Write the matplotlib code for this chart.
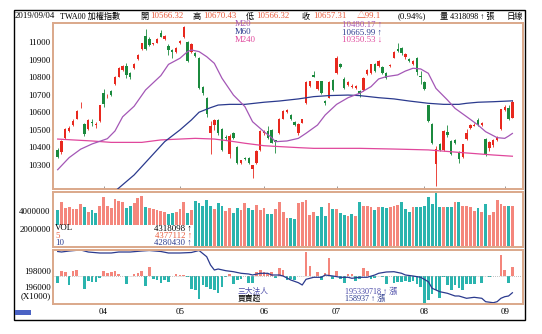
import matplotlib
matplotlib.use("Agg")
import matplotlib.pyplot as plt
from matplotlib.patches import Rectangle

W, H = 542, 334
FONT = ['Liberation Serif', 'Noto Sans CJK TC', 'DejaVu Sans']
plt.rcParams['font.family'] = FONT

# ---- daily candles (TWA00, 2019/03 - 2019/09/04) ----
opens = [10386, 10372, 10456, 10496, 10528, 10564, 10640, 10532, 10505, 10548,
         10530, 10551, 10712, 10692, 10722, 10760, 10804, 10842, 10867, 10823,
         10852, 10905, 10962, 11036, 11019, 10992, 10998, 11051, 11019, 10981,
         10956, 10945, 10994, 11030, 11000, 10945, 10937, 10909, 10745, 10684,
         10480, 10528, 10557, 10505, 10458, 10365, 10481, 10405, 10313, 10342,
         10342, 10275, 10313, 10386, 10481, 10494, 10500, 10440, 10481, 10564,
         10602, 10583, 10545, 10485, 10541, 10652, 10751, 10813, 10735, 10779,
         10665, 10684, 10785, 10823, 10874, 10793, 10755, 10745, 10741, 10722,
         10728, 10817, 10827, 10874, 10865, 10861, 10823, 10866, 10912, 10964,
         10969, 10915, 10903, 10874, 10912, 10810, 10774, 10640, 10532, 10304,
         10418, 10386, 10488, 10437, 10443, 10374, 10348, 10450, 10513, 10524,
         10557, 10526, 10450, 10399, 10412, 10443, 10504, 10614, 10627, 10566]
highs = [10395, 10440, 10512, 10520, 10560, 10612, 10661, 10540, 10560, 10560,
         10545, 10645, 10735, 10705, 10730, 10810, 10858, 10872, 10880, 10830,
         10880, 10932, 10998, 11076, 11030, 10998, 11024, 11070, 11040, 10990,
         10962, 10975, 11012, 11093, 11010, 10995, 10945, 10915, 10750, 10690,
         10550, 10565, 10560, 10510, 10470, 10475, 10488, 10410, 10330, 10345,
         10348, 10300, 10385, 10500, 10498, 10520, 10505, 10445, 10570, 10612,
         10618, 10590, 10550, 10538, 10565, 10778, 10782, 10836, 10782, 10782,
         10670, 10778, 10790, 10920, 10880, 10800, 10778, 10760, 10755, 10728,
         10802, 10848, 10878, 10880, 10900, 10866, 10828, 10875, 10950, 10998,
         10975, 10940, 10910, 10898, 10918, 10836, 10780, 10645, 10538, 10408,
         10425, 10500, 10530, 10442, 10450, 10380, 10422, 10505, 10532, 10540,
         10568, 10545, 10455, 10435, 10447, 10466, 10622, 10640, 10640, 10670]
lows = [10340, 10365, 10450, 10488, 10520, 10560, 10623, 10465, 10500, 10525,
        10510, 10548, 10630, 10685, 10695, 10755, 10800, 10838, 10795, 10790,
        10848, 10900, 10958, 10955, 10980, 10985, 10995, 11028, 11015, 10930,
        10912, 10940, 10990, 11025, 10890, 10940, 10915, 10735, 10700, 10575,
        10360, 10500, 10470, 10380, 10445, 10340, 10450, 10305, 10308, 10328,
        10305, 10228, 10305, 10380, 10470, 10450, 10425, 10370, 10478, 10560,
        10598, 10555, 10520, 10470, 10538, 10648, 10745, 10800, 10730, 10705,
        10640, 10680, 10720, 10818, 10855, 10735, 10750, 10740, 10735, 10690,
        10722, 10812, 10822, 10830, 10860, 10820, 10792, 10860, 10908, 10945,
        10930, 10905, 10888, 10868, 10815, 10760, 10728, 10545, 10418, 10180,
        10380, 10380, 10462, 10355, 10420, 10310, 10340, 10445, 10508, 10520,
        10520, 10520, 10350, 10380, 10405, 10438, 10500, 10610, 10555, 10566]
closes = [10348, 10437, 10507, 10509, 10551, 10608, 10642, 10475, 10555, 10540,
          10534, 10642, 10650, 10696, 10702, 10804, 10852, 10867, 10814, 10804,
          10874, 10928, 10994, 10962, 10985, 10994, 11020, 11032, 11038, 10956,
          10947, 10970, 11008, 11085, 10895, 10989, 10922, 10741, 10713, 10590,
          10525, 10557, 10481, 10386, 10452, 10465, 10456, 10310, 10327, 10332,
          10313, 10298, 10380, 10494, 10494, 10456, 10427, 10434, 10564, 10608,
          10614, 10560, 10526, 10532, 10560, 10774, 10779, 10804, 10779, 10713,
          10652, 10774, 10728, 10912, 10861, 10741, 10774, 10749, 10751, 10703,
          10798, 10842, 10874, 10835, 10893, 10827, 10798, 10869, 10945, 10950,
          10937, 10935, 10893, 10893, 10831, 10800, 10732, 10551, 10424, 10389,
          10386, 10494, 10469, 10361, 10427, 10332, 10418, 10484, 10526, 10528,
          10526, 10538, 10361, 10431, 10443, 10462, 10618, 10633, 10561, 10657]

# volume in millions of 張
volume_m = [4.11, 5.07, 4.38, 4.50, 4.26, 4.26, 4.88, 4.50, 3.88, 4.19,
            3.80, 4.65, 5.65, 4.65, 4.38, 5.42, 5.15, 5.03, 4.38, 4.65,
            4.96, 5.53, 5.73, 4.50, 4.38, 4.26, 4.11, 4.00, 3.88, 3.73,
            3.80, 3.88, 4.30, 5.11, 3.80, 4.11, 5.15, 4.96, 4.57, 5.26,
            4.57, 4.26, 4.96, 4.57, 4.00, 4.38, 3.80, 4.38, 4.19, 4.96,
            4.38, 4.19, 4.77, 4.19, 4.40,
            3.73, 3.73, 4.26, 5.03, 3.88, 3.23, 3.23, 3.11, 4.96, 5.03,
            5.34, 3.61, 3.88, 3.42, 4.50, 3.42, 4.96, 4.26, 4.26, 3.80,
            3.60, 3.42, 3.73, 3.50, 5.03, 4.57, 4.57, 4.50, 4.19, 4.50,
            4.50, 4.40, 4.50, 4.57, 4.77, 5.03, 4.26, 3.88, 4.50, 4.50,
            4.50, 4.60, 5.65, 4.88, 6.03, 4.50, 4.50, 4.50, 4.50, 5.03,
            5.03, 4.65, 4.57, 4.50, 4.00, 4.38, 3.88, 4.88, 3.61, 3.88,
            5.34, 4.80, 4.55, 4.65, 4.60]

# 三大法人 daily net buy/sell
inst_net = [-118000, 88000, 71000, -147000, 101000, 111000, 5000, -230000, -83000, -101000,
            -101000, -35000, 101000, 53000, 76000, 101000, 41000, 9000, -129000, 5000,
            41000, 53000, 101000, -177000, 164000, -41000, -58000, -118000, -58000, -101000,
            5000, 41000, 26000, 23000, -5000, -230000, -247000, -406000, -159000, -189000,
            -217000, -247000, -295000, -189000, -5000, 41000, -129000, -71000, -41000, 5000,
            -118000, -118000, 76000, 106000, 71000, 58000, 76000, -23000, 154000, 118000,
            -58000, -41000, -71000, 5000, 12000, 436000, 177000, 5000, 76000, -71000,
            58000, 318000, -41000, 88000, -41000, -118000, 48000, 48000, -83000, -41000,
            154000, 94000, -41000, -23000, 5000, -5000, -129000, 5000, -118000, -101000,
            -101000, -83000, -101000, -88000, -129000, -189000, -472000, -424000, -306000, -247000,
            -376000, -5000, -159000, -247000, -159000, -200000, -247000, -129000, -141000, -141000,
            5000, -118000, 5000, -5000, 5000, 12000, 376000, 106000, -118000, 158937]

# 三大法人 cumulative line (X1000), read at these bars
line_idx = [0, 1, 3, 6, 8, 11, 14, 16, 19, 22, 24, 27, 29, 32, 35, 37, 39, 40, 41, 42,
            44, 46, 48, 50, 51, 53, 55, 56, 58, 59, 61, 63, 64, 65, 67, 69, 70, 72, 74, 76,
            77, 79, 81, 83, 84, 86, 88, 90, 91, 93, 95, 97, 98, 100, 102, 104, 105, 107, 109, 111,
            112, 114, 115, 116, 117, 118, 119]
line_val = [200393, 200331, 200454, 200577, 200331, 200209, 200209, 200331, 200331, 200454,
            200515, 200393, 200209, 200209, 200270, 200515, 199755, 198736, 198123, 198245,
            198037, 197914, 197718, 197632, 197509, 197718, 197718, 197509, 197509, 197387,
            196896, 196564, 196282, 196982, 197227, 197227, 197509, 197387, 197227, 197227,
            197104, 197227, 197227, 197509, 197718, 197877, 197914, 197718, 197509, 197387,
            197227, 196687, 195877, 195460, 195264, 194933, 194933, 194650, 194773, 194650,
            194233, 194110, 194233, 194650, 194847, 194933, 195331]

# moving averages read at these bars
m20_idx = [0, 3, 6, 9, 13, 15, 17, 20, 23, 27, 29, 32, 34, 35, 37, 39, 41, 43, 46, 49,
           51, 54, 56, 57, 60, 63, 65, 68, 70, 73, 76, 79, 82, 84, 86, 89, 91, 93, 95, 97,
           99, 102, 104, 107, 110, 112, 115, 117, 118, 119]
m20_val = [10273, 10342, 10390, 10420, 10450, 10494, 10575, 10635, 10728, 10810,
           10874, 10909, 10947, 10956, 10947, 10918, 10880, 10795, 10699, 10633,
           10547, 10490, 10456, 10433, 10437, 10452, 10481, 10528, 10585, 10646,
           10684, 10709, 10747, 10791, 10804, 10814, 10836, 10852, 10848, 10823,
           10737, 10671, 10623, 10576, 10528, 10490, 10456, 10452, 10465, 10480]
m60_idx = [15, 20, 24, 28, 32, 35, 37, 40, 42, 45, 49, 54, 58, 63, 67, 71, 76, 79, 84, 88,
           92, 97, 101, 105, 107, 110, 114, 119]
m60_val = [10150, 10243, 10338, 10433, 10500, 10557, 10601, 10627, 10642, 10646,
           10646, 10658, 10665, 10677, 10690, 10696, 10699, 10696, 10684, 10677,
           10665, 10652, 10646, 10646, 10652, 10658, 10661, 10666]
m240_idx = [0, 4, 9, 14, 18, 22, 27, 32, 36, 41, 45, 49, 54, 58, 63, 67, 71, 79, 88, 97,
            105, 114, 119]
m240_val = [10448, 10443, 10437, 10429, 10429, 10429, 10443, 10448, 10452, 10448,
            10437, 10424, 10410, 10405, 10399, 10395, 10395, 10395, 10391, 10386,
            10372, 10357, 10350]

month_idx = [12, 32, 54, 73, 96, 117]
month_labels = ['04', '05', '06', '07', '08', '09']

RED = '#e8281e'
GREEN = '#1b8a3e'
SALMON = '#f4867c'
TEAL = '#2ab4ae'
NAVY = '#2b3a8e'
PURPLE = '#a457b6'
PINK = '#e0479c'
TAN = '#dba88a'
NUM = '#e85a3a'
XLIM = (-1.3, 121.7)

fig = plt.figure(figsize=(W / 100, H / 100), dpi=100)


def fx(x):
    return x / W


def fy(y):
    return 1 - y / H


def panel(y0, y1):
    ax = fig.add_axes([fx(52.7), fy(y1), (522.7 - 52.7) / W, (y1 - y0) / H])
    ax.set_xlim(*XLIM)
    for s in ax.spines.values():
        s.set_color(TAN)
        s.set_linewidth(1.4)
    ax.tick_params(axis='y', length=0, pad=1.5, labelsize=6.4)
    ax.tick_params(axis='x', length=0, labelbottom=False)
    return ax


def white_box(x0, y0, x1, y1):
    fig.add_artist(Rectangle((fx(x0), fy(y1)), (x1 - x0) / W, (y1 - y0) / H,
                             transform=fig.transFigure, facecolor='white',
                             edgecolor='none', zorder=5))


def txt(x, y, s, color='black', ha='left', size=6.3):
    fig.text(fx(x), fy(y), s, color=color, ha=ha, va='center', fontsize=size, zorder=6)


n = len(closes)
xs = list(range(n))

# ---- price panel ----
ax = panel(22.5, 189)
ax.set_ylim(10163, 11113)
ax.set_yticks(range(10300, 11001, 100))
cols = [RED if closes[i] >= opens[i] else GREEN for i in xs]
bottoms = [min(opens[i], closes[i]) for i in xs]
heights = [max(abs(closes[i] - opens[i]), 4) for i in xs]
ax.vlines(xs, lows, highs, colors=cols, lw=0.6, zorder=2)
ax.bar(xs, heights, bottom=bottoms, width=0.62, color=cols, lw=0, zorder=2)
ax.plot(m240_idx, m240_val, color=PINK, lw=0.9, zorder=3)
ax.plot(m60_idx, m60_val, color=NAVY, lw=0.9, zorder=3)
ax.plot(m20_idx, m20_val, color=PURPLE, lw=0.9, zorder=3)
ax.set_xticks(month_idx)
ax.tick_params(axis='x', direction='in', length=2, width=0.6, color='#888888')

# ---- volume panel ----
axv = panel(192, 247)
axv.set_ylim(-80000, 6200000)
axv.set_yticks([2000000, 4000000])
axv.set_yticklabels(['2000000', '4000000'])
vcols = [TEAL if closes[0] < opens[0] else SALMON] + \
        [SALMON if closes[i] >= closes[i - 1] else TEAL for i in xs[1:]]
axv.bar(xs, [v * 1e6 for v in volume_m], width=0.74, color=vcols, lw=0)

# ---- institutional panel ----
axb = panel(249.5, 303.5)
axb.set_ylim(194012, 200638)
axb.set_yticks([196000, 198000])
axb.set_yticklabels(['196000', '198000'])
axb.set_xticks(month_idx)
axb.set_xticklabels(month_labels)
axb.tick_params(axis='x', labelbottom=True, length=0, pad=3.5, labelsize=6.4)
axb2 = axb.twinx()
axb2.set_ylim(-480000, 473000)
axb2.set_yticks([])
for s in axb2.spines.values():
    s.set_visible(False)
axb2.bar(xs, inst_net, width=0.7, color=[SALMON if v >= 0 else TEAL for v in inst_net], lw=0)
axb2.axhline(0, color='#aaaaaa', lw=0.6, ls=(0, (1, 1.5)))
axb.set_zorder(axb2.get_zorder() + 1)
axb.patch.set_visible(False)
axb.plot(line_idx, line_val, color=NAVY, lw=0.9)

# ---- legends / labels ----
white_box(53.5, 224.5, 193, 246.3)
txt(55, 228.3, 'VOL')
txt(55, 235.6, '5', color=NUM)
txt(55, 242.6, '10', color=NAVY)
txt(192, 228.3, '4318098 ↑', ha='right')
txt(192, 235.6, '4377112 ↑', color=NUM, ha='right')
txt(192, 242.6, '4280430 ↑', color=NAVY, ha='right')

white_box(232, 287, 392, 303)
txt(238, 291.7, '三大法人', color='#4a4aa8', size=5.6)
txt(238, 298.7, '買賣超', size=5.6)
txt(345, 291.7, '195330718 ↑ 漲', color='#4a4aa8', size=5.9)
txt(345, 298.7, '158937 ↑ 漲', color=NAVY, size=5.9)
txt(50.7, 296, '(X1000)', ha='right', size=6.4)

txt(235, 24.5, 'M20', color=PURPLE)
txt(235, 32.3, 'M60', color=NAVY)
txt(235, 40.2, 'M240', color=PINK)
txt(342, 24.5, '10480.17 ↑', color=PURPLE)
txt(342, 32.3, '10665.99 ↑', color=NAVY)
txt(342, 40.2, '10350.53 ↓', color=PINK)

# header row
ty = 16.5
txt(14.5, ty, '2019/09/04')
txt(60, ty, 'TWA00 加權指數', size=5.9)
txt(140, ty, '開', size=5.9)
txt(150, ty, '10566.32', color=NUM)
txt(193, ty, '高', size=5.9)
txt(203, ty, '10670.43', color=NUM)
txt(246, ty, '低', size=5.9)
txt(256, ty, '10566.32', color=NUM)
txt(302, ty, '收', size=5.9)
txt(313, ty, '10657.31', color=NUM)
txt(357, ty, '△99.1', color=NUM)
txt(398, ty, '(0.94%)')
txt(440, ty, '量 4318098 ↑ 張', size=5.9)
txt(506, ty, '日線', size=5.9)

# outer frame and small tab
fig.add_artist(Rectangle((fx(14), fy(320)), (525 - 14) / W, (320 - 10) / H,
                         transform=fig.transFigure, facecolor='none',
                         edgecolor='black', lw=1, zorder=7))
fig.add_artist(Rectangle((fx(15), fy(315)), 16 / W, 5 / H,
                         transform=fig.transFigure, facecolor='#4a62c4',
                         edgecolor='none', zorder=7))

fig.savefig('out.png', dpi=100)
